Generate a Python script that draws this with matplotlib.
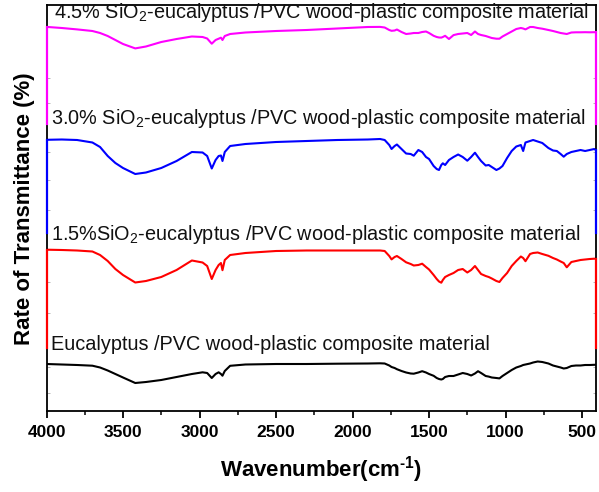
import matplotlib
matplotlib.use("Agg")
import matplotlib.pyplot as plt
from matplotlib.ticker import FixedLocator, NullFormatter

plt.rcParams['font.family'] = ['Liberation Sans', 'DejaVu Sans']
plt.rcParams['mathtext.default'] = 'regular'

# Wavenumber grid (cm-1)
wavenumber = [4000, 3900, 3800, 3700, 3650, 3600, 3550, 3500, 3420, 3350,
              3250, 3150, 3050, 2980, 2950, 2920, 2895, 2875, 2860, 2850,
              2835, 2800, 2700, 2500, 2300, 2100, 1900, 1820, 1790, 1760,
              1745, 1725, 1710, 1680, 1650, 1620, 1600, 1570, 1545, 1520,
              1500, 1470, 1450, 1435, 1420, 1410, 1395, 1370, 1340, 1310,
              1280, 1250, 1225, 1200, 1180, 1160, 1130, 1110, 1090, 1060,
              1040, 1020, 990, 960, 930, 900, 885, 870, 840, 820,
              790, 760, 720, 690, 665, 640, 620, 600, 570, 540,
              510, 480, 450, 420, 410]

# Stacked transmittance (arbitrary offset units)
sio2_45 = [384.1, 383, 381.6, 380, 378, 375, 371, 367, 362.6, 364.5,
           369, 372, 374.5, 374, 372.5, 367.3, 371, 372.3, 373.3, 371,
           375, 377, 378.5, 380, 381, 382.5, 384, 384.1, 383.5, 381,
           380.2, 380.5, 381.5, 379, 377, 377.5, 378, 378, 379, 379.5,
           378, 375.2, 374, 373.5, 373.4, 374, 375.2, 372, 375.9, 377,
           377.5, 378, 376, 379.5, 377, 376, 375, 374, 373, 372.3,
           372.3, 374.5, 377, 379.5, 382, 383, 382.5, 381.6, 384, 384,
           383, 382.3, 381, 380, 379, 378, 377.5, 377, 378.5, 378.7,
           378.7, 378.8, 378.7, 378.8, 378.7]

sio2_30 = [271.2, 271.5, 271, 268.5, 264, 255, 248, 243, 237, 238.5,
           243, 250, 259, 258.5, 255, 242.5, 251, 255, 255.5, 250,
           259, 265, 267, 269, 270, 271, 271.5, 272, 271, 266,
           262, 265, 266.5, 262, 257.5, 257, 255.3, 261, 259, 254,
           252, 245, 242, 241, 246, 247.7, 246, 251, 254, 256.5,
           254, 250.3, 254, 258.3, 254, 250, 245.5, 246, 244, 241,
           242.5, 245, 253, 260, 264.5, 266, 260, 268.5, 270, 271,
           269.5, 268, 263, 260.5, 260, 257, 254.3, 257, 259, 260,
           261, 260, 261, 262, 261]

sio2_15 = [161.3, 161, 160.5, 159.5, 156, 150, 142, 136, 128.5, 130,
           134, 141, 150.5, 148.5, 145, 132, 141, 146, 148, 140.8,
           151, 156, 158, 160, 160.5, 160.5, 160.5, 160.5, 160, 155,
           151.6, 154, 155, 152, 148.7, 147, 145.5, 146, 147.3, 144,
           141.5, 136, 132, 129.5, 128.3, 131, 134, 136, 138, 141,
           142, 138.5, 141, 145, 141, 137, 135, 134, 132.5, 130,
           129, 133, 138, 145, 150, 154.5, 153, 149.8, 157, 158,
           158.5, 157, 155.2, 153, 151.5, 149.5, 148, 143.7, 149, 150,
           151, 151.5, 152, 152.3, 152.3]

eucalyptus = [47, 46.5, 46, 45.3, 43.5, 40.5, 37, 33.5, 28, 29,
              31, 34, 37, 38.7, 38, 33, 37, 38.7, 37, 35.3,
              40, 45.2, 46.5, 47, 47, 47.3, 47.5, 47.7, 47.5, 45.5,
              44, 43, 41.8, 40, 38.5, 37.5, 37.3, 38.5, 39.8, 38.5,
              37, 35.2, 33, 32, 31.5, 32, 34, 35, 35, 36.5,
              38, 37, 35.5, 37.5, 39.8, 38, 35, 34.4, 33.5, 33,
              32.6, 35, 38, 41, 43.5, 45, 46, 46.5, 47.5, 48.5,
              49.5, 49, 47.5, 45.5, 44.5, 43.5, 42.5, 43, 45, 45.5,
              45.5, 46, 46, 46.2, 46.2]

series = [sio2_45, sio2_30, sio2_15, eucalyptus]
colors = ['#FF00FF', '#0000FF', '#FF0000', '#000000']
labels = ['4.5% SiO$_2$-eucalyptus /PVC wood-plastic composite material',
          '3.0% SiO$_2$-eucalyptus /PVC wood-plastic composite material',
          '1.5%SiO$_2$-eucalyptus /PVC wood-plastic composite material',
          'Eucalyptus /PVC wood-plastic composite material']
label_pos = [(3951, 393), (3973, 287.3), (3973, 171.3), (3973, 61.3)]
layer_bottom = [287, 178, 63, None]

W, H = 599, 492
fig = plt.figure(figsize=(W / 100, H / 100), dpi=100)
ax = fig.add_axes([46.5 / W, 1 - 411 / H, (596 - 46.5) / W, (411 - 5.5) / H])

XMIN, XMAX = 4000, 409
ax.set_xlim(XMIN, XMAX)
ax.set_ylim(0, 405.5)

for ys, c, lab, pos, bot in zip(series, colors, labels, label_pos, layer_bottom):
    ax.plot(wavenumber, ys, color=c, lw=1.5, solid_joinstyle='round')
    ax.text(pos[0], pos[1], lab, fontsize=14.3, ha='left', va='baseline', color='#111111')
    if bot is not None:
        ax.plot([XMIN, XMIN], [ys[0], bot], color=c, lw=1.6, clip_on=False, zorder=5)
        ax.plot([XMAX, XMAX], [ys[-1], bot], color=c, lw=1.6, clip_on=False, zorder=5)

for s in ax.spines.values():
    s.set_linewidth(1.3)

ax.xaxis.set_major_locator(FixedLocator([4000, 3500, 3000, 2500, 2000, 1500, 1000, 500]))
ax.xaxis.set_minor_locator(FixedLocator([3750, 3250, 2750, 2250, 1750, 1250, 750]))
ax.tick_params(axis='x', which='major', direction='out', length=5, width=1.3,
               labelsize=12.5, pad=5)
ax.tick_params(axis='x', which='minor', direction='out', length=3, width=1.1)
for t in ax.get_xticklabels():
    t.set_fontweight('bold')

ax.yaxis.set_major_locator(FixedLocator([18, 44, 98, 129, 201, 231, 259, 308, 333]))
ax.yaxis.set_major_formatter(NullFormatter())
ax.tick_params(axis='y', which='major', direction='in', length=2.5, width=0.6,
               color='#aaaaaa', left=True, right=True)

ax.set_xlabel('Wavenumber(cm$^{\u2010 1}$)', fontsize=16, fontweight='bold', labelpad=10)
ax.set_ylabel('Rate of Transmittance (%)', fontsize=16, fontweight='bold', labelpad=5)

fig.savefig('out.png', dpi=100)
